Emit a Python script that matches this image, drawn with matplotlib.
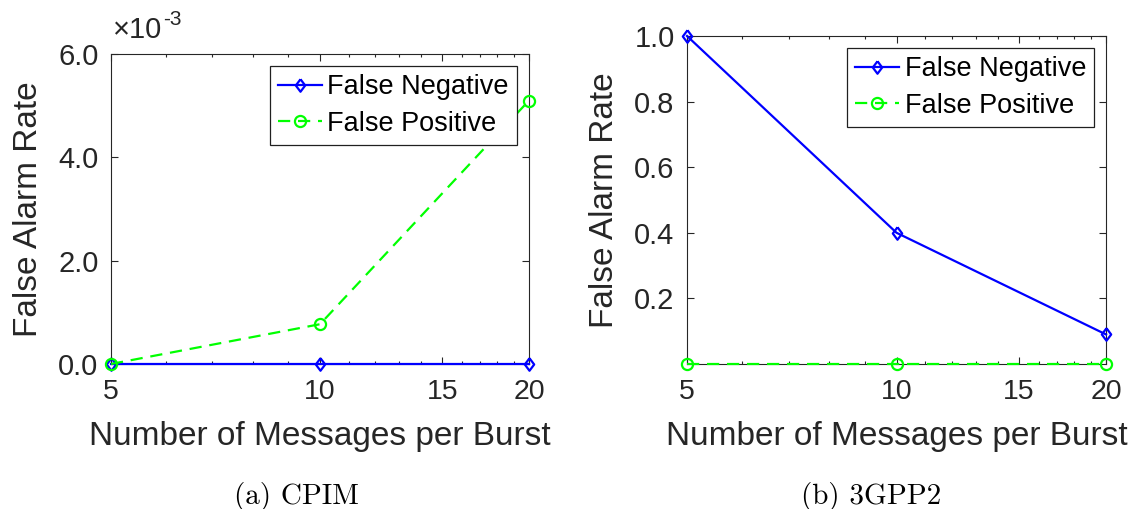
import matplotlib
matplotlib.use("Agg")
import matplotlib.pyplot as plt
from matplotlib.ticker import FixedLocator, FuncFormatter, NullFormatter

# Burst sizes (messages per burst)
burst_sizes = [5, 10, 20]

# CPIM false alarm rates
cpim_false_negative = [0.0, 0.0, 0.0]
cpim_false_positive = [0.0, 0.77e-3, 5.1e-3]

# 3GPP2 false alarm rates
gpp2_false_negative = [1.0, 0.40, 0.09]
gpp2_false_positive = [0.0, 0.0, 0.0]

x_ticks = [5, 10, 15, 20]
x_minor = [6, 7, 8, 9, 11, 12, 13, 14, 16, 17, 18, 19]
cpim_y_ticks = [0.0, 2e-3, 4e-3, 6e-3]
gpp2_y_ticks = [0.2, 0.4, 0.6, 0.8, 1.0]

series_labels = ["False Negative", "False Positive"]
x_label = "Number of Messages per Burst"
y_label = "False Alarm Rate"
captions = ["(a) CPIM", "(b) 3GPP2"]

plt.rcParams["font.family"] = ["Liberation Sans", "DejaVu Sans"]

TXT = "#262626"
BLUE = "#0000ff"
GREEN = "#00ff00"

# MATLAB-style diamond (wider than matplotlib's thin diamond)
DIAMOND = [(0, 1), (0.75, 0), (0, -1), (-0.75, 0), (0, 1)]

fig = plt.figure(figsize=(11.35, 5.09), dpi=100)
ax1 = fig.add_axes([0.0978, 0.2849, 0.3683, 0.6090])
ax2 = fig.add_axes([0.6053, 0.2849, 0.3692, 0.6444])


def style_axes(ax):
    ax.set_xscale("log")
    ax.set_xlim(5, 20)
    ax.xaxis.set_major_locator(FixedLocator(x_ticks))
    ax.xaxis.set_major_formatter(FuncFormatter(lambda v, _: f"{v:g}"))
    ax.xaxis.set_minor_locator(FixedLocator(x_minor))
    ax.xaxis.set_minor_formatter(NullFormatter())
    ax.tick_params(which="both", direction="in", top=True, right=True,
                   color=TXT, labelcolor=TXT, width=0.8)
    ax.tick_params(which="major", length=5, labelsize=21)
    ax.tick_params(which="minor", length=2.5)
    ax.tick_params(axis="x", which="major", pad=11, labelsize=20.5)
    ax.tick_params(axis="y", which="major", pad=9)
    for s in ax.spines.values():
        s.set_color(TXT)
        s.set_linewidth(0.8)
    ax.set_xlabel(x_label, fontsize=24, color=TXT, labelpad=11)
    ax.set_ylabel(y_label, fontsize=24, color=TXT, labelpad=10)


def plot_pair(ax, fn, fp):
    ax.plot(burst_sizes, fn, color=BLUE, linestyle="-", linewidth=1.6,
            marker=DIAMOND, markersize=9, markerfacecolor="none",
            markeredgewidth=1.6, label=series_labels[0], clip_on=False, zorder=3)
    ax.plot(burst_sizes, fp, color=GREEN, linestyle=(0, (5.5, 3.5)), linewidth=1.6,
            marker="o", markersize=8, markerfacecolor="none",
            markeredgewidth=1.6, label=series_labels[1], clip_on=False, zorder=3)
    leg = ax.legend(loc="upper right", fontsize=19.5, fancybox=False,
                    framealpha=1, edgecolor="#202020", handlelength=1.62,
                    handletextpad=0.22, borderpad=0.3, labelspacing=0.4,
                    borderaxespad=0.44)
    leg.get_frame().set_linewidth(0.9)
    for t in leg.get_texts():
        t.set_color("black")


# CPIM panel
plot_pair(ax1, cpim_false_negative, cpim_false_positive)
style_axes(ax1)
ax1.set_ylim(0, 6e-3)
ax1.yaxis.set_major_locator(FixedLocator(cpim_y_ticks))
ax1.yaxis.set_major_formatter(FuncFormatter(lambda v, _: f"{v * 1e3:.1f}"))
mult = ax1.text(0.005, 16 / 310 + 1.0, "\u00d710", transform=ax1.transAxes,
                fontsize=21, color=TXT, ha="left", va="baseline")
ax1.annotate("-3", xy=(1, 1), xycoords=mult, xytext=(0.5, 4.5),
             textcoords="offset points", fontsize=15, color=TXT,
             ha="left", va="top")

# 3GPP2 panel
plot_pair(ax2, gpp2_false_negative, gpp2_false_positive)
style_axes(ax2)
ax2.set_ylim(0, 1.0)
ax2.yaxis.set_major_locator(FixedLocator(gpp2_y_ticks))
ax2.yaxis.set_major_formatter(FuncFormatter(lambda v, _: f"{v:.1f}"))

fig.text(296 / 1135, 0.0098, captions[0], fontsize=21, family="cmr10",
         ha="center", va="baseline", color="black")
fig.text(871.5 / 1135, 0.0098, captions[1], fontsize=21, family="cmr10",
         ha="center", va="baseline", color="black")

fig.savefig("out.png", dpi=100)
